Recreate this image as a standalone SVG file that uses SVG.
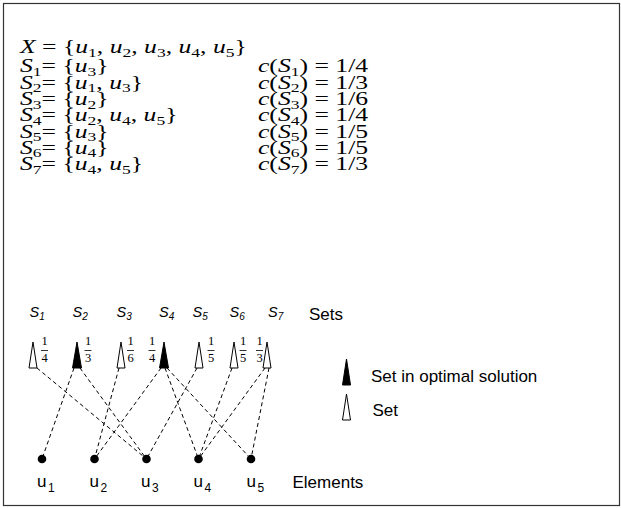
<svg xmlns="http://www.w3.org/2000/svg" width="621" height="508" viewBox="0 0 621 508">
<style>
.m{font-family:"Liberation Serif",serif;font-size:19px;fill:#000}
.i{font-style:italic}
.sb{font-size:13px}
.sans{font-family:"Liberation Sans",Arial,sans-serif;fill:#000}
.lab{font-size:17px}
.sl{font-size:14.5px;font-style:italic}
.ss{font-size:10px}
.fr{font-family:"Liberation Serif",serif;font-size:12.5px;text-anchor:middle;fill:#000}
.bar{stroke:#000;stroke-width:0.8}
.open{fill:#fff;stroke:#000;stroke-width:1}
.full{fill:#000;stroke:#000;stroke-width:1}
.dash{stroke:#000;stroke-width:1;stroke-dasharray:4 3;fill:none}
.dot{fill:#000}
</style>
<rect x="3.5" y="3.5" width="616" height="502" fill="#fff" stroke="#333" stroke-width="1.2"/>

<g id="definitions" transform="translate(20 0) scale(1.35 1)">
<text class="m" x="0" y="53.5"><tspan class="i">X</tspan> = {<tspan class="i">u</tspan><tspan class="sb" dy="3.5">1</tspan><tspan dy="-3.5">, </tspan><tspan class="i">u</tspan><tspan class="sb" dy="3.5">2</tspan><tspan dy="-3.5">, </tspan><tspan class="i">u</tspan><tspan class="sb" dy="3.5">3</tspan><tspan dy="-3.5">, </tspan><tspan class="i">u</tspan><tspan class="sb" dy="3.5">4</tspan><tspan dy="-3.5">, </tspan><tspan class="i">u</tspan><tspan class="sb" dy="3.5">5</tspan><tspan dy="-3.5">}</tspan></text>
<text class="m" x="0" y="72.5"><tspan class="i">S</tspan><tspan class="sb" dy="3.5">1</tspan><tspan dy="-3.5">= {</tspan><tspan class="i">u</tspan><tspan class="sb" dy="3.5">3</tspan><tspan dy="-3.5">}</tspan></text>
<text class="m" x="0" y="88.8"><tspan class="i">S</tspan><tspan class="sb" dy="3.5">2</tspan><tspan dy="-3.5">= {</tspan><tspan class="i">u</tspan><tspan class="sb" dy="3.5">1</tspan><tspan dy="-3.5">, </tspan><tspan class="i">u</tspan><tspan class="sb" dy="3.5">3</tspan><tspan dy="-3.5">}</tspan></text>
<text class="m" x="0" y="105.1"><tspan class="i">S</tspan><tspan class="sb" dy="3.5">3</tspan><tspan dy="-3.5">= {</tspan><tspan class="i">u</tspan><tspan class="sb" dy="3.5">2</tspan><tspan dy="-3.5">}</tspan></text>
<text class="m" x="0" y="121.4"><tspan class="i">S</tspan><tspan class="sb" dy="3.5">4</tspan><tspan dy="-3.5">= {</tspan><tspan class="i">u</tspan><tspan class="sb" dy="3.5">2</tspan><tspan dy="-3.5">, </tspan><tspan class="i">u</tspan><tspan class="sb" dy="3.5">4</tspan><tspan dy="-3.5">, </tspan><tspan class="i">u</tspan><tspan class="sb" dy="3.5">5</tspan><tspan dy="-3.5">}</tspan></text>
<text class="m" x="0" y="137.7"><tspan class="i">S</tspan><tspan class="sb" dy="3.5">5</tspan><tspan dy="-3.5">= {</tspan><tspan class="i">u</tspan><tspan class="sb" dy="3.5">3</tspan><tspan dy="-3.5">}</tspan></text>
<text class="m" x="0" y="154"><tspan class="i">S</tspan><tspan class="sb" dy="3.5">6</tspan><tspan dy="-3.5">= {</tspan><tspan class="i">u</tspan><tspan class="sb" dy="3.5">4</tspan><tspan dy="-3.5">}</tspan></text>
<text class="m" x="0" y="170.3"><tspan class="i">S</tspan><tspan class="sb" dy="3.5">7</tspan><tspan dy="-3.5">= {</tspan><tspan class="i">u</tspan><tspan class="sb" dy="3.5">4</tspan><tspan dy="-3.5">, </tspan><tspan class="i">u</tspan><tspan class="sb" dy="3.5">5</tspan><tspan dy="-3.5">}</tspan></text>

<text class="m" x="176.3" y="72.5"><tspan class="i">c</tspan>(<tspan class="i">S</tspan><tspan class="sb" dy="3.5">1</tspan><tspan dy="-3.5">) = 1/4</tspan></text>
<text class="m" x="176.3" y="88.8"><tspan class="i">c</tspan>(<tspan class="i">S</tspan><tspan class="sb" dy="3.5">2</tspan><tspan dy="-3.5">) = 1/3</tspan></text>
<text class="m" x="176.3" y="105.1"><tspan class="i">c</tspan>(<tspan class="i">S</tspan><tspan class="sb" dy="3.5">3</tspan><tspan dy="-3.5">) = 1/6</tspan></text>
<text class="m" x="176.3" y="121.4"><tspan class="i">c</tspan>(<tspan class="i">S</tspan><tspan class="sb" dy="3.5">4</tspan><tspan dy="-3.5">) = 1/4</tspan></text>
<text class="m" x="176.3" y="137.7"><tspan class="i">c</tspan>(<tspan class="i">S</tspan><tspan class="sb" dy="3.5">5</tspan><tspan dy="-3.5">) = 1/5</tspan></text>
<text class="m" x="176.3" y="154"><tspan class="i">c</tspan>(<tspan class="i">S</tspan><tspan class="sb" dy="3.5">6</tspan><tspan dy="-3.5">) = 1/5</tspan></text>
<text class="m" x="176.3" y="170.3"><tspan class="i">c</tspan>(<tspan class="i">S</tspan><tspan class="sb" dy="3.5">7</tspan><tspan dy="-3.5">) = 1/3</tspan></text>
</g>

<g id="connectors">
<line class="dash" x1="37" y1="368" x2="146.5" y2="459"/>
<line class="dash" x1="74" y1="368" x2="42" y2="459"/>
<line class="dash" x1="80" y1="368" x2="146.5" y2="459"/>
<line class="dash" x1="119" y1="368" x2="94.5" y2="459"/>
<line class="dash" x1="161" y1="368" x2="94.5" y2="459"/>
<line class="dash" x1="165" y1="368" x2="198.5" y2="459"/>
<line class="dash" x1="167" y1="368" x2="251" y2="459"/>
<line class="dash" x1="197" y1="368" x2="146.5" y2="459"/>
<line class="dash" x1="232" y1="368" x2="198.5" y2="459"/>
<line class="dash" x1="265" y1="368" x2="198.5" y2="459"/>
<line class="dash" x1="269" y1="368" x2="251" y2="459"/>
</g>

<g id="S1"><polygon class="open" points="33,342 29,368 37,368"/><text class="sans sl" x="29.5" y="316.5">S<tspan class="ss" dy="3">1</tspan></text><text class="fr" x="44.5" y="345">1</text><line class="bar" x1="41" y1="350.5" x2="48" y2="350.5"/><text class="fr" x="44.5" y="361.5">4</text></g>
<g id="S2"><polygon class="full" points="77,342 72.5,368 81.5,368"/><text class="sans sl" x="72.5" y="316.5">S<tspan class="ss" dy="3">2</tspan></text><text class="fr" x="88" y="345">1</text><line class="bar" x1="84.5" y1="350.5" x2="91.5" y2="350.5"/><text class="fr" x="88" y="361.5">3</text></g>
<g id="S3"><polygon class="open" points="121,342 117,368 125,368"/><text class="sans sl" x="116.5" y="316.5">S<tspan class="ss" dy="3">3</tspan></text><text class="fr" x="130.5" y="345">1</text><line class="bar" x1="127" y1="350.5" x2="134" y2="350.5"/><text class="fr" x="130.5" y="361.5">6</text></g>
<g id="S4"><polygon class="full" points="164,342 159.5,368 168.5,368"/><text class="sans sl" x="159" y="316.5">S<tspan class="ss" dy="3">4</tspan></text><text class="fr" x="152" y="345">1</text><line class="bar" x1="148.5" y1="350.5" x2="155.5" y2="350.5"/><text class="fr" x="152" y="361.5">4</text></g>
<g id="S5"><polygon class="open" points="199,342 195,368 203,368"/><text class="sans sl" x="192.5" y="316.5">S<tspan class="ss" dy="3">5</tspan></text><text class="fr" x="211" y="345">1</text><line class="bar" x1="207.5" y1="350.5" x2="214.5" y2="350.5"/><text class="fr" x="211" y="361.5">5</text></g>
<g id="S6"><polygon class="open" points="234,342 230,368 238,368"/><text class="sans sl" x="229.5" y="316.5">S<tspan class="ss" dy="3">6</tspan></text><text class="fr" x="243" y="345">1</text><line class="bar" x1="239.5" y1="350.5" x2="246.5" y2="350.5"/><text class="fr" x="243" y="361.5">5</text></g>
<g id="S7"><polygon class="open" points="267,342 263,368 271,368"/><text class="sans sl" x="268" y="316.5">S<tspan class="ss" dy="3">7</tspan></text><text class="fr" x="259.5" y="345">1</text><line class="bar" x1="256" y1="350.5" x2="263" y2="350.5"/><text class="fr" x="259.5" y="361.5">3</text></g>

<g id="u1"><circle class="dot" cx="42" cy="459" r="4.3"/><text class="sans lab" x="37" y="487">u<tspan font-size="12" dx="1.5" dy="5">1</tspan></text></g>
<g id="u2"><circle class="dot" cx="94.5" cy="459" r="4.3"/><text class="sans lab" x="89.5" y="487">u<tspan font-size="12" dx="1.5" dy="5">2</tspan></text></g>
<g id="u3"><circle class="dot" cx="146.5" cy="459" r="4.3"/><text class="sans lab" x="141" y="487">u<tspan font-size="12" dx="1.5" dy="5">3</tspan></text></g>
<g id="u4"><circle class="dot" cx="198.5" cy="459" r="4.3"/><text class="sans lab" x="193.5" y="487">u<tspan font-size="12" dx="1.5" dy="5">4</tspan></text></g>
<g id="u5"><circle class="dot" cx="251" cy="459" r="4.3"/><text class="sans lab" x="246.5" y="487">u<tspan font-size="12" dx="1.5" dy="5">5</tspan></text></g>

<g id="labels">
<text class="sans lab" x="309" y="320">Sets</text>
<text class="sans lab" x="292.5" y="487.5">Elements</text>
</g>

<g id="legend">
<polygon class="full" points="346.5,359 342.5,385 350.5,385"/>
<text class="sans lab" x="371" y="381.5">Set in optimal solution</text>
<polygon class="open" points="346.5,394 342.5,420 350.5,420"/>
<text class="sans lab" x="372.5" y="416">Set</text>
</g>
</svg>
